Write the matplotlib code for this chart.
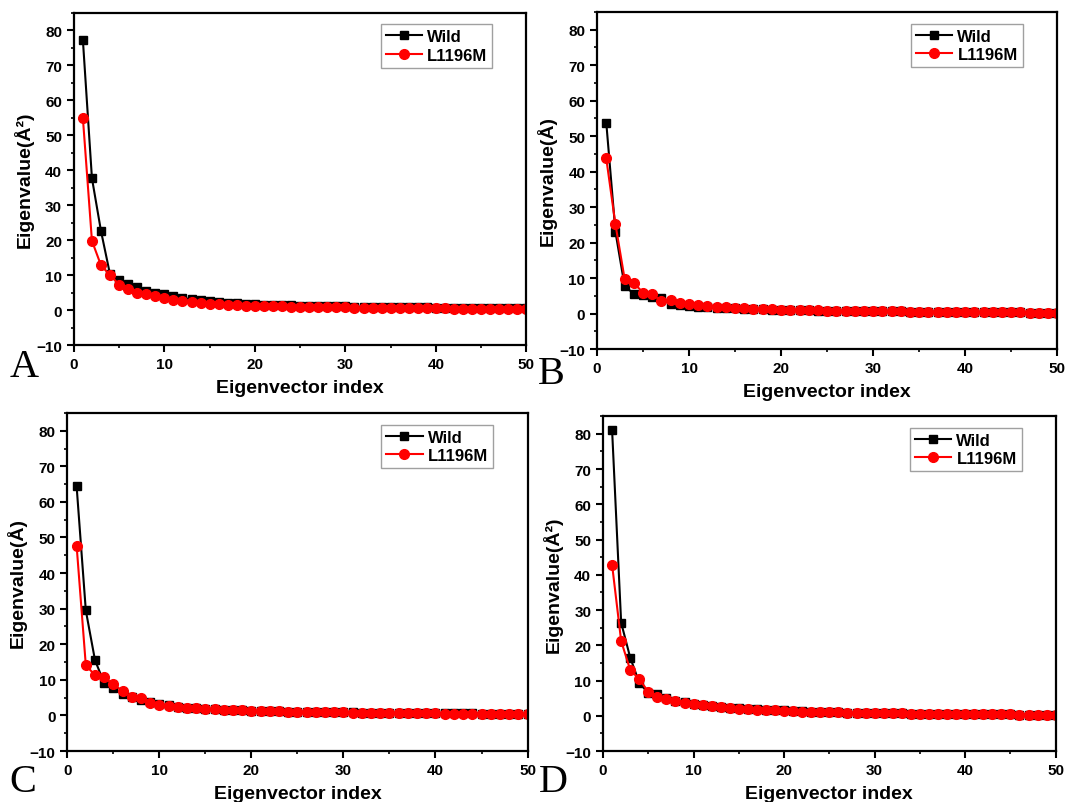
import matplotlib
matplotlib.use('Agg')
import matplotlib.pyplot as plt
from matplotlib.ticker import MultipleLocator, AutoMinorLocator
import numpy as np

plt.rcParams['font.family'] = ['Liberation Sans', 'DejaVu Sans']
plt.rcParams['font.weight'] = 'bold'

idx = list(range(1, 51))

# panel A
wild_A = [77.2, 37.7, 22.6, 10.2, 8.7, 7.4, 6.6, 5.6, 5.0, 4.5, 4.0, 3.5, 3.1, 2.8, 2.5, 2.3, 2.1, 1.9, 1.8, 1.7,
          1.6, 1.5, 1.45, 1.4, 1.3, 1.25, 1.2, 1.15, 1.1, 1.05, 1.0, 0.95, 0.9, 0.88, 0.85, 0.82, 0.8, 0.77, 0.75, 0.72,
          0.7, 0.68, 0.66, 0.64, 0.62, 0.6, 0.58, 0.56, 0.54, 0.52]
mut_A = [54.9, 19.8, 12.8, 10.0, 7.3, 6.0, 5.0, 4.6, 4.0, 3.5, 3.0, 2.6, 2.2, 2.0, 1.8, 1.65, 1.5, 1.4, 1.3, 1.25,
         1.2, 1.1, 1.05, 1.0, 0.95, 0.9, 0.85, 0.8, 0.78, 0.75, 0.72, 0.7, 0.66, 0.63, 0.6, 0.57, 0.55, 0.52, 0.5, 0.48,
         0.46, 0.44, 0.42, 0.4, 0.38, 0.36, 0.34, 0.32, 0.3, 0.28]
# panel B
wild_B = [53.8, 23.0, 7.7, 5.6, 5.2, 4.7, 4.3, 2.6, 2.4, 2.2, 2.0, 1.9, 1.7, 1.6, 1.5, 1.4, 1.3, 1.2, 1.1, 1.05,
          1.0, 0.95, 0.9, 0.85, 0.8, 0.78, 0.75, 0.72, 0.7, 0.67, 0.64, 0.62, 0.6, 0.58, 0.55, 0.53, 0.5, 0.48, 0.46, 0.44,
          0.42, 0.4, 0.38, 0.36, 0.34, 0.32, 0.3, 0.28, 0.26, 0.25]
mut_B = [43.7, 25.1, 9.7, 8.6, 5.9, 5.4, 3.6, 3.7, 2.9, 2.6, 2.3, 2.1, 2.0, 1.8, 1.6, 1.5, 1.4, 1.3, 1.2, 1.1,
         1.05, 1.0, 0.95, 0.9, 0.85, 0.8, 0.77, 0.74, 0.71, 0.68, 0.65, 0.62, 0.6, 0.57, 0.55, 0.52, 0.5, 0.48, 0.46, 0.44,
         0.42, 0.4, 0.38, 0.36, 0.34, 0.32, 0.3, 0.28, 0.26, 0.24]
# panel C
wild_C = [64.4, 29.5, 15.5, 9.1, 7.6, 6.1, 5.1, 4.3, 3.7, 3.2, 2.8, 2.5, 2.2, 2.0, 1.8, 1.7, 1.6, 1.5, 1.4, 1.3,
          1.25, 1.2, 1.15, 1.1, 1.05, 1.0, 0.95, 0.92, 0.9, 0.87, 0.84, 0.81, 0.78, 0.76, 0.74, 0.72, 0.7, 0.68, 0.66, 0.64,
          0.62, 0.6, 0.58, 0.56, 0.54, 0.52, 0.5, 0.48, 0.46, 0.44]
mut_C = [47.7, 14.1, 11.3, 10.7, 8.7, 6.9, 5.1, 4.9, 3.5, 3.0, 2.7, 2.4, 2.1, 2.0, 1.8, 1.7, 1.6, 1.5, 1.4, 1.3,
         1.25, 1.2, 1.15, 1.1, 1.05, 1.0, 0.95, 0.9, 0.87, 0.84, 0.8, 0.77, 0.74, 0.71, 0.68, 0.66, 0.63, 0.6, 0.58, 0.56,
         0.54, 0.52, 0.5, 0.48, 0.46, 0.44, 0.42, 0.4, 0.38, 0.36]
# panel D
wild_D = [81.0, 26.4, 16.5, 9.4, 6.4, 6.3, 4.9, 4.3, 3.8, 3.4, 3.0, 2.7, 2.5, 2.3, 2.1, 1.9, 1.8, 1.7, 1.6, 1.5,
          1.4, 1.3, 1.2, 1.1, 1.0, 0.95, 0.9, 0.85, 0.8, 0.77, 0.74, 0.7, 0.67, 0.64, 0.61, 0.58, 0.55, 0.52, 0.5, 0.47,
          0.45, 0.42, 0.4, 0.38, 0.36, 0.34, 0.32, 0.3, 0.28, 0.26]
mut_D = [42.8, 21.2, 13.0, 10.4, 6.8, 5.4, 4.7, 4.1, 3.7, 3.3, 3.0, 2.7, 2.6, 2.2, 2.0, 1.8, 1.7, 1.6, 1.5, 1.4,
         1.3, 1.2, 1.1, 1.05, 1.0, 0.95, 0.9, 0.85, 0.8, 0.76, 0.72, 0.69, 0.66, 0.63, 0.6, 0.57, 0.54, 0.51, 0.48, 0.46,
         0.44, 0.42, 0.4, 0.38, 0.36, 0.34, 0.32, 0.3, 0.28, 0.26]

letters = ['A', 'B', 'C', 'D']
ylabels = ['Eigenvalue(Å²)', 'Eigenvalue(Å)', 'Eigenvalue(Å)', 'Eigenvalue(Å²)']
wild_all = [wild_A, wild_B, wild_C, wild_D]
mut_all = [mut_A, mut_B, mut_C, mut_D]

# axes rects in figure fraction
rects = [[0.069, 0.569, 0.423, 0.414],
         [0.558, 0.564, 0.430, 0.420],
         [0.063, 0.0635, 0.430, 0.421],
         [0.5636, 0.0635, 0.423, 0.417]]
letter_pos = [(0.009, 0.531), (0.503, 0.522), (0.009, 0.014), (0.504, 0.014)]

fig = plt.figure(figsize=(10.7, 8.03), dpi=100)

for i in range(4):
    ax = fig.add_axes(rects[i])
    ax.plot(idx, wild_all[i], color='black', marker='s', markersize=6, lw=1.5, label='Wild')
    ax.plot(idx, mut_all[i], color='red', marker='o', markersize=7, lw=1.5, label='L1196M')
    ax.set_xlim(0, 50)
    ax.set_ylim(-10, 85)
    ax.xaxis.set_major_locator(MultipleLocator(10))
    ax.yaxis.set_major_locator(MultipleLocator(10))
    ax.xaxis.set_minor_locator(AutoMinorLocator(2))
    ax.yaxis.set_minor_locator(AutoMinorLocator(2))
    ax.tick_params(which='major', direction='out', length=5, width=1.5, labelsize=11)
    ax.tick_params(which='minor', direction='out', length=2.5, width=1.2)
    for s in ax.spines.values():
        s.set_linewidth(1.6)
    for lab in ax.get_xticklabels() + ax.get_yticklabels():
        lab.set_fontweight('bold')
    ax.set_xlabel('Eigenvector index', fontsize=14, fontweight='bold', labelpad=6)
    ax.set_ylabel(ylabels[i], fontsize=14, fontweight='bold', labelpad=2)
    leg = ax.legend(loc='upper right', bbox_to_anchor=(0.925, 0.965), fontsize=12,
                    fancybox=False, handlelength=2.2, borderpad=0.3, labelspacing=0.2,
                    handletextpad=0.3, borderaxespad=0)
    leg.get_frame().set_edgecolor('#888888')
    leg.get_frame().set_linewidth(1.0)
    fig.text(letter_pos[i][0], letter_pos[i][1], letters[i], fontsize=29,
             family='Liberation Serif', fontweight='normal')

fig.savefig('out.png', dpi=100)
